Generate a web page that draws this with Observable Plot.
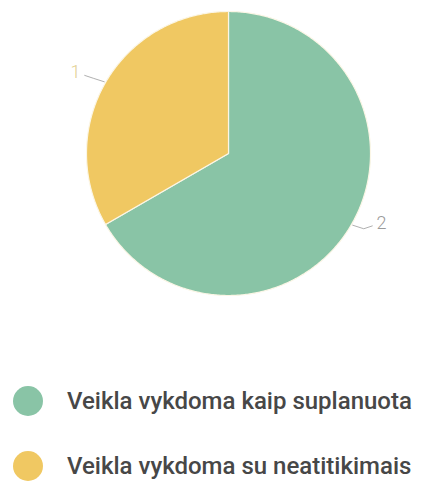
<!DOCTYPE html>
<html>
<head>
<meta charset="utf-8">
<script src="https://cdn.jsdelivr.net/npm/d3@7"></script>
<script src="https://cdn.jsdelivr.net/npm/@observablehq/plot@0.6"></script>
<style>
  html, body { margin: 0; padding: 0; background: #fff; }
  body { width: 425px; height: 486px; overflow: hidden; font-family: Roboto, "Noto Sans", sans-serif; }
  #legend { margin-top: 46px; padding-left: 13px; }
  .row { display: flex; align-items: center; height: 30px; margin-bottom: 35px; }
  .dot { width: 30px; height: 30px; border-radius: 50%; flex: none; }
  .lab { margin-left: 24px; font-size: 24px; font-weight: 500; color: #474747; white-space: nowrap; line-height: 30px; }
</style>
</head>
<body>
<div id="chart"></div>
<div id="legend"></div>
<script>
// Data
const categories = ["Veikla vykdoma kaip suplanuota", "Veikla vykdoma su neatitikimais"];
const values = [2, 1];
const colors = ["#89c4a6", "#f0c862"];
const labelColors = ["#9a9a9a", "#e2cf92"];

const table = categories.map((c, i) => ({category: c, value: values[i], color: colors[i], labelColor: labelColors[i]}));
const arcs = d3.pie().value(d => d.value).sort(null)(table);

// polygons for slices in unit coordinates (y up)
const polys = [];
arcs.forEach((a, k) => {
  polys.push({k, x: 0, y: 0, color: a.data.color});
  const n = Math.max(2, Math.ceil((a.endAngle - a.startAngle) / 0.01));
  for (let j = 0; j <= n; j++) {
    const t = a.startAngle + (a.endAngle - a.startAngle) * j / n;
    polys.push({k, x: Math.sin(t), y: Math.cos(t), color: a.data.color});
  }
});

const leaders = [];
const labels = arcs.map((a, k) => {
  const m = (a.startAngle + a.endAngle) / 2;
  const s = Math.sin(m), c = Math.cos(m);
  const side = s < 0 ? -1 : 1;
  leaders.push({k, x: 1.01 * s, y: 1.01 * c});
  leaders.push({k, x: 1.1 * s, y: 1.06 * c});
  leaders.push({k, x: 1.1 * s + side * 0.06, y: 1.06 * c + 0.02});
  return {x: 1.1 * s + side * 0.09, y: 1.06 * c + 0.04, text: String(a.data.value), color: a.data.labelColor, anchor: side < 0 ? "end" : "start"};
});

const chart = Plot.plot({
  width: 425,
  height: 340,
  marginLeft: 86,
  marginRight: 55,
  marginTop: 11,
  marginBottom: 45,
  x: {domain: [-1, 1], axis: null},
  y: {domain: [-1, 1], axis: null},
  style: {background: "#fff"},
  marks: [
    Plot.line(polys, {x: "x", y: "y", z: "k", fill: d => d.color, stroke: "#fbf6e6", strokeWidth: 1.2, curve: "linear-closed"}),
    Plot.line(leaders, {x: "x", y: "y", z: "k", stroke: "#b0b0b0", strokeWidth: 1}),
    Plot.text(labels.filter(d => d.anchor === "end"), {x: "x", y: "y", text: "text", fill: d => d.color, fontSize: 18, fontWeight: 300, textAnchor: "end", fontFamily: "Roboto"}),
    Plot.text(labels.filter(d => d.anchor === "start"), {x: "x", y: "y", text: "text", fill: d => d.color, fontSize: 18, fontWeight: 300, textAnchor: "start", fontFamily: "Roboto"})
  ]
});
document.getElementById("chart").appendChild(chart);

const legend = document.getElementById("legend");
table.forEach(d => {
  const row = document.createElement("div");
  row.className = "row";
  const dot = document.createElement("div");
  dot.className = "dot";
  dot.style.background = d.color;
  const lab = document.createElement("div");
  lab.className = "lab";
  lab.textContent = d.category;
  row.appendChild(dot);
  row.appendChild(lab);
  legend.appendChild(row);
});
</script>
</body>
</html>
